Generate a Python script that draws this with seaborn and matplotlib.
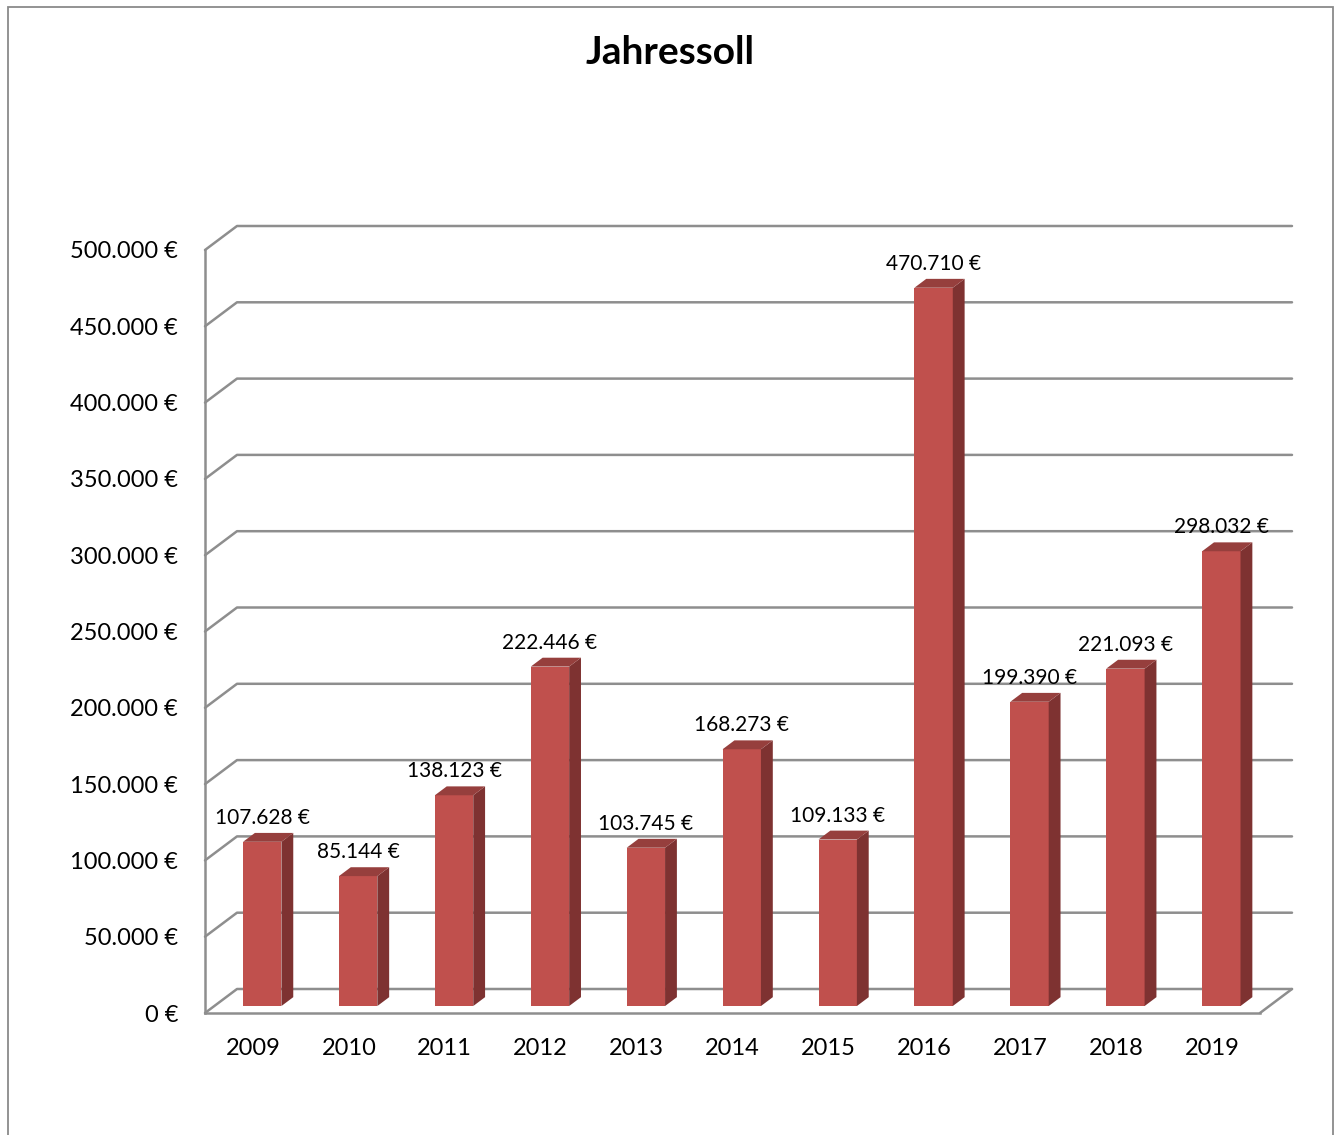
import matplotlib
matplotlib.use("Agg")
import matplotlib.pyplot as plt
import matplotlib.transforms as mtransforms
from matplotlib.patches import Polygon, Rectangle
from matplotlib.lines import Line2D
import seaborn as sns

# data
years = ["2009", "2010", "2011", "2012", "2013", "2014", "2015", "2016", "2017", "2018", "2019"]
soll = [107628, 85144, 138123, 222446, 103745, 168273, 109133, 470710, 199390, 221093, 298032]
y_ticks = list(range(0, 500001, 50000))


def euro(v):
    return "{:,}".format(v).replace(",", ".") + " €"


sns.set_style("white")
plt.rcParams["font.family"] = ["Lato", "DejaVu Sans"]
plt.rcParams["text.color"] = "black"

W, H = 1339, 1135
fig = plt.figure(figsize=(W / 100, H / 100), dpi=100)

# front plane of the pseudo 3D box, in pixels
ax_l, ax_r, ax_b, ax_t = 205, 1260, 1013, 250
ax = fig.add_axes([ax_l / W, (H - ax_b) / H, (ax_r - ax_l) / W, (ax_b - ax_t) / H])
axw, axh = ax_r - ax_l, ax_b - ax_t

# depth of the box (pixels) and bar depth range
dx, dy = 32, 24
f_front, f_back = 0.29, 0.66

front = "#C0504D"
side = "#7E3231"
top = "#963F3D"
grid = "#8E8E8E"

sns.barplot(x=years, y=soll, color=front, saturation=1, width=0.4, ax=ax, zorder=2)
ax.set_xlim(-0.5, len(years) - 0.5)
ax.set_ylim(0, 500000)

# shift front faces into the box
shift = mtransforms.offset_copy(ax.transData, fig=fig, x=dx * f_front, y=dy * f_front, units="dots")
for p in ax.patches:
    p.set_transform(shift)
    p.set_edgecolor("none")

# back wall grid + left wall diagonals
ox, oy = dx / axw, dy / axh
for v in y_ticks:
    fy = v / 500000
    ax.add_line(Line2D([0, ox, 1 + ox], [fy, fy + oy, fy + oy], transform=ax.transAxes,
                       color=grid, lw=1.8, clip_on=False, zorder=0.5))
# right edge of the floor
ax.add_line(Line2D([1, 1 + ox], [0, oy], transform=ax.transAxes,
                   color=grid, lw=1.8, clip_on=False, zorder=0.5))

# side and top faces of the bars
to_axes = ax.transAxes.inverted()
ddx, ddy = dx * (f_back - f_front), dy * (f_back - f_front)
for p in ax.patches:
    x0 = p.get_x()
    x1 = x0 + p.get_width()
    h = p.get_height()
    (a, b0), (c, b1) = shift.transform([(x0, 0), (x1, h)])
    side_pts = [(c, b0), (c + ddx, b0 + ddy), (c + ddx, b1 + ddy), (c, b1)]
    top_pts = [(a, b1), (c, b1), (c + ddx, b1 + ddy), (a + ddx, b1 + ddy)]
    ax.add_patch(Polygon(to_axes.transform(side_pts), closed=True, transform=ax.transAxes,
                         facecolor=side, edgecolor="none", clip_on=False, zorder=2))
    ax.add_patch(Polygon(to_axes.transform(top_pts), closed=True, transform=ax.transAxes,
                         facecolor=top, edgecolor="none", clip_on=False, zorder=2))

# value labels
for i, v in enumerate(soll):
    ax.annotate(euro(v), (i, v), xytext=(dx * f_front, dy * f_front + 18),
                textcoords="offset pixels", ha="center", va="baseline",
                fontsize=15, color="black", zorder=5)

# axes styling
for s in ["top", "right"]:
    ax.spines[s].set_visible(False)
for s in ["left", "bottom"]:
    ax.spines[s].set_color(grid)
    ax.spines[s].set_linewidth(1.8)
    ax.spines[s].set_zorder(0.6)

ax.set_yticks(y_ticks)
ax.set_yticklabels([euro(v) for v in y_ticks])
ax.tick_params(axis="y", direction="out", length=5.8, width=1.3, color=grid,
               pad=13.5, labelsize=17, labelcolor="black")
ax.set_xticks([i - 0.5 for i in range(len(years) + 1)], minor=True)
ax.tick_params(axis="x", which="minor", direction="out", length=5, width=1.3, color=grid)
ax.tick_params(axis="x", which="major", length=0, pad=18, labelsize=17, labelcolor="black")
ax.set_xlabel("")
ax.set_ylabel("")

fig.text(670 / W, (H - 53) / H, "Jahressoll", ha="center", va="center",
         fontsize=28, fontweight="bold", color="black")

# chart frame
fig.patches.append(Rectangle((8 / W, -0.05), (1333 - 8) / W, (H - 7) / H + 0.05,
                             transform=fig.transFigure, fill=False, edgecolor="#8A8A8A", lw=1.3))

fig.savefig("out.png", dpi=100)
